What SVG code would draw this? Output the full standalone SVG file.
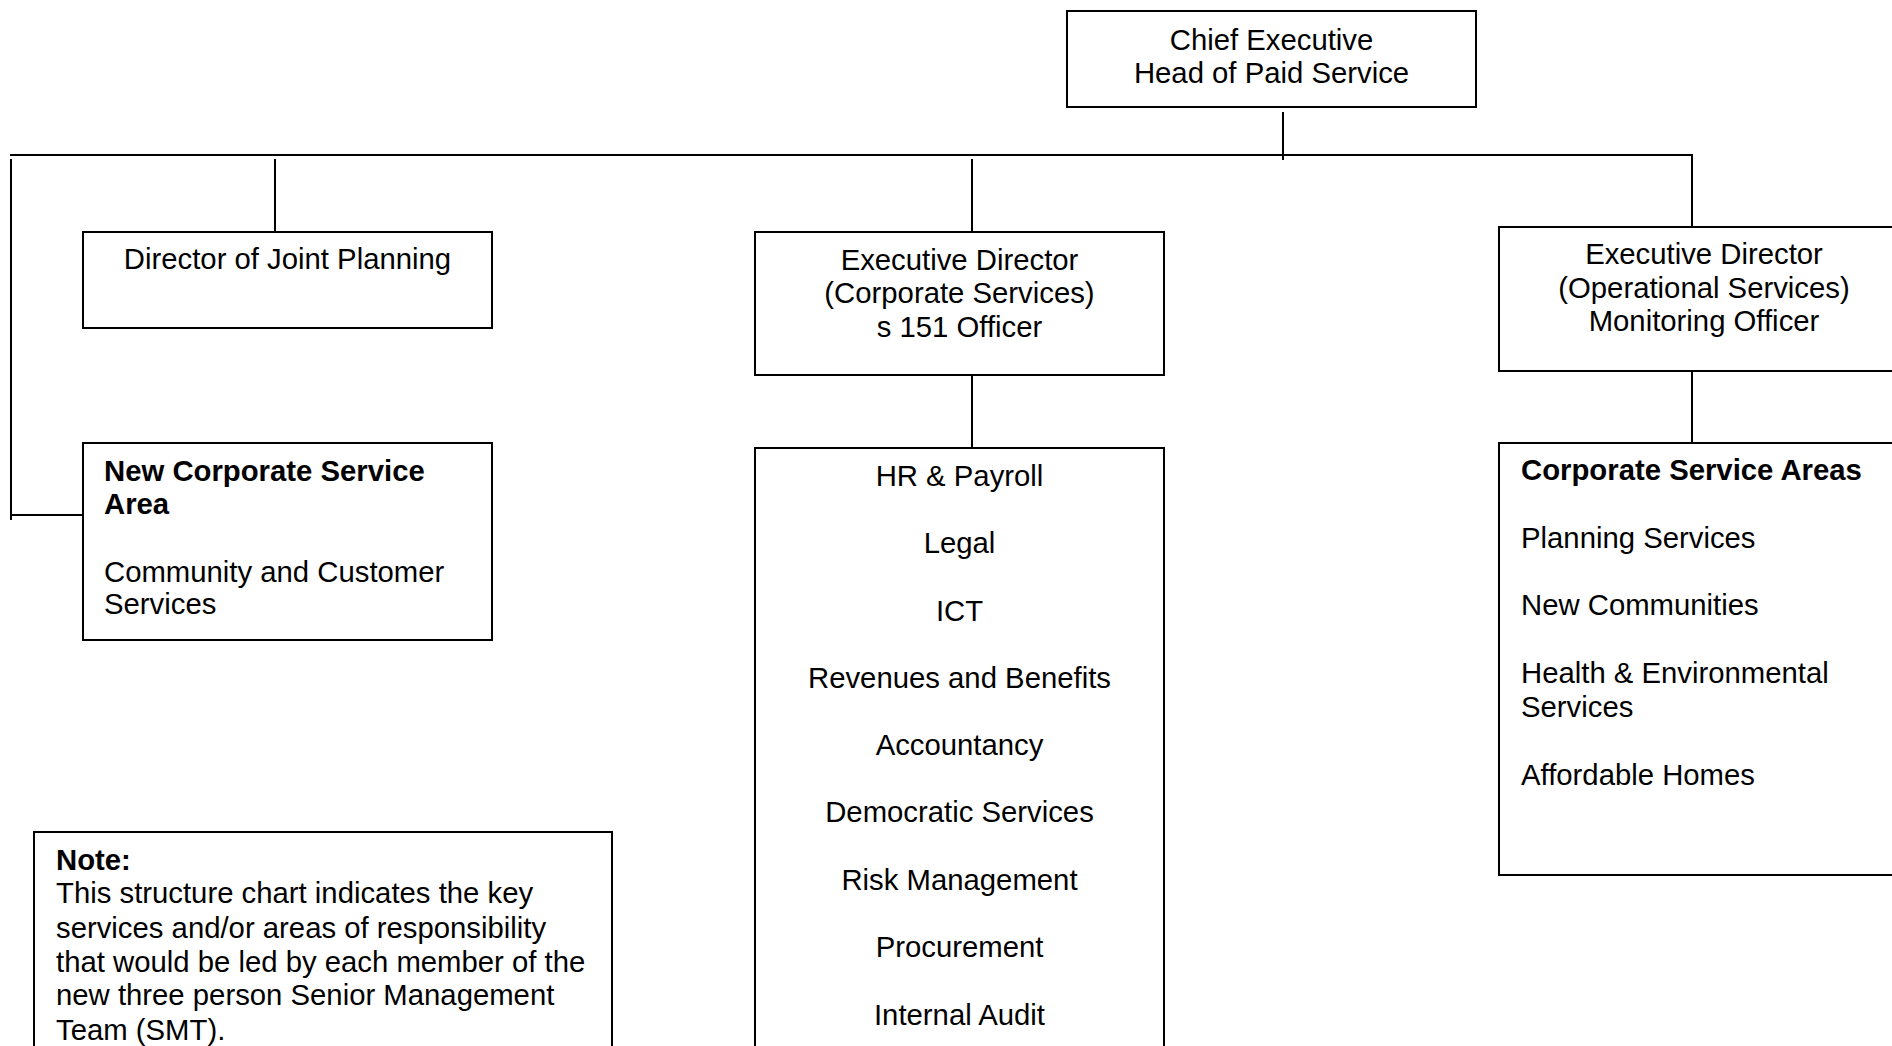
<svg xmlns="http://www.w3.org/2000/svg" width="1892" height="1046" viewBox="0 0 1892 1046">
<style>
.box{fill:#ffffff;stroke:#000000;stroke-width:2}
.ln{fill:none;stroke:#000000;stroke-width:2}
text{font-family:"Liberation Sans",Arial,sans-serif;font-size:29.3px;fill:#000000}
.c{text-anchor:middle}
.b{font-weight:bold}
</style>
<rect width="1892" height="1046" fill="#ffffff"/>
<g id="connectors">
<path class="ln" d="M1283 112 V160"/>
<path class="ln" d="M10 155 H1692 V227"/>
<path class="ln" d="M11 159 V520"/>
<path class="ln" d="M11 515 H83"/>
<path class="ln" d="M275 159 V232"/>
<path class="ln" d="M972 159 V232"/>
<path class="ln" d="M972 375 V448"/>
<path class="ln" d="M1692 371 V443"/>
</g>
<g id="chief">
<rect class="box" x="1067" y="11" width="409" height="96"/>
<text class="c" x="1271.5" y="50">Chief Executive</text>
<text class="c" x="1271.5" y="83">Head of Paid Service</text>
</g>
<g id="joint-planning">
<rect class="box" x="83" y="232" width="409" height="96"/>
<text class="c" x="287.5" y="269">Director of Joint Planning</text>
</g>
<g id="new-corporate-area">
<rect class="box" x="83" y="443" width="409" height="197"/>
<text class="b" x="104" y="481">New Corporate Service</text>
<text class="b" x="104" y="514">Area</text>
<text x="104" y="582">Community and Customer</text>
<text x="104" y="614">Services</text>
</g>
<g id="exec-corporate">
<rect class="box" x="755" y="232" width="409" height="143"/>
<text class="c" x="959.5" y="270">Executive Director</text>
<text class="c" x="959.5" y="303">(Corporate Services)</text>
<text class="c" x="959.5" y="337">s 151 Officer</text>
</g>
<g id="corporate-list">
<rect class="box" x="755" y="448" width="409" height="620"/>
<text class="c" x="959.5" y="486">HR &amp; Payroll</text>
<text class="c" x="959.5" y="553">Legal</text>
<text class="c" x="959.5" y="621">ICT</text>
<text class="c" x="959.5" y="688">Revenues and Benefits</text>
<text class="c" x="959.5" y="755">Accountancy</text>
<text class="c" x="959.5" y="822">Democratic Services</text>
<text class="c" x="959.5" y="890">Risk Management</text>
<text class="c" x="959.5" y="957">Procurement</text>
<text class="c" x="959.5" y="1025">Internal Audit</text>
</g>
<g id="exec-operational">
<rect class="box" x="1499" y="227" width="410" height="144"/>
<text class="c" x="1704" y="264">Executive Director</text>
<text class="c" x="1704" y="298">(Operational Services)</text>
<text class="c" x="1704" y="331">Monitoring Officer</text>
</g>
<g id="operational-list">
<rect class="box" x="1499" y="443" width="410" height="432"/>
<text class="b" x="1521" y="480">Corporate Service Areas</text>
<text x="1521" y="548">Planning Services</text>
<text x="1521" y="615">New Communities</text>
<text x="1521" y="683">Health &amp; Environmental</text>
<text x="1521" y="717">Services</text>
<text x="1521" y="785">Affordable Homes</text>
</g>
<g id="note">
<rect class="box" x="34" y="832" width="578" height="240"/>
<text class="b" x="56" y="870">Note:</text>
<text x="56" y="903">This structure chart indicates the key</text>
<text x="56" y="938">services and/or areas of responsibility</text>
<text x="56" y="972">that would be led by each member of the</text>
<text x="56" y="1005">new three person Senior Management</text>
<text x="56" y="1040">Team (SMT).</text>
</g>
</svg>
